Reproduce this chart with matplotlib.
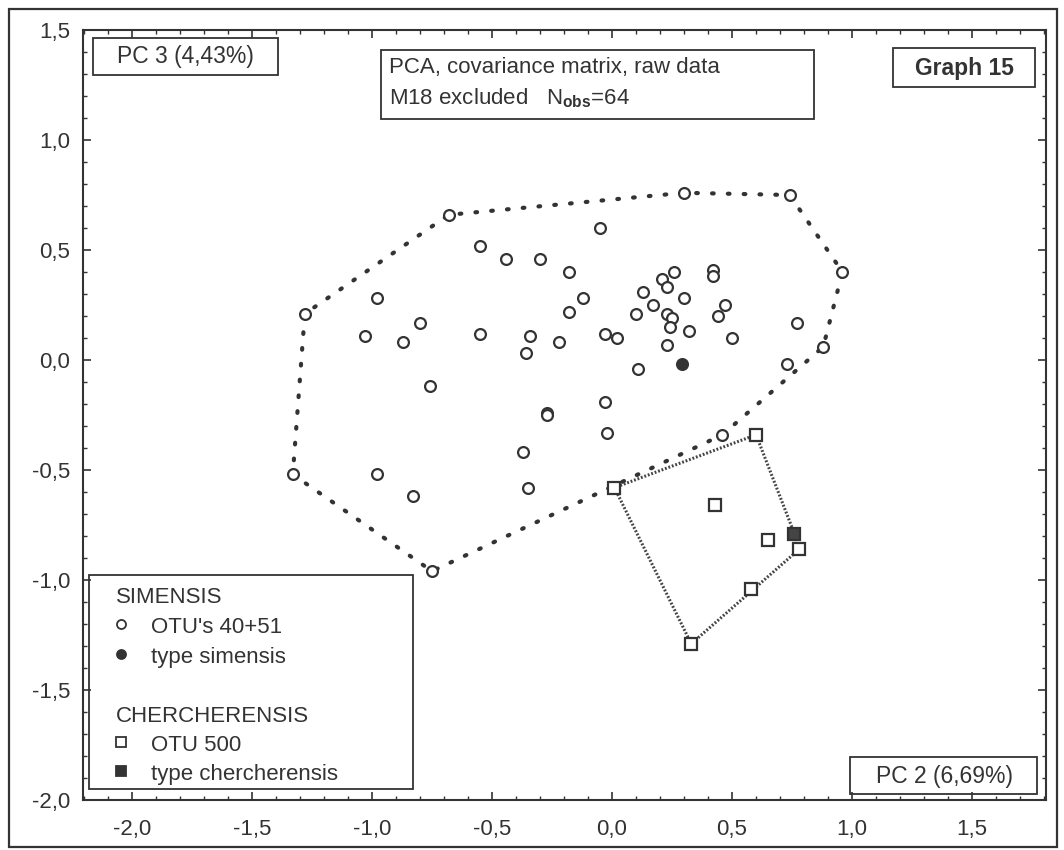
import matplotlib
matplotlib.use("Agg")
import matplotlib.pyplot as plt
from matplotlib.patches import Rectangle
from matplotlib.lines import Line2D
from matplotlib.ticker import MultipleLocator, FuncFormatter

plt.rcParams['font.family'] = ['Liberation Sans', 'DejaVu Sans']
plt.rcParams['mathtext.fontset'] = 'custom'
plt.rcParams['mathtext.rm'] = 'Liberation Sans'
plt.rcParams['mathtext.bf'] = 'Liberation Sans:bold'

INK = '#333333'

# SIMENSIS, OTU's 40+51  (PC 2, PC 3)
sim_x = [0.30, 0.74, -0.68, -0.05, -0.55, -0.44, -0.30, -0.18, 0.21, 0.26,
         0.13, 0.23, 0.30, -0.12, 0.17, -0.98, -1.28, 0.10, 0.23, 0.25,
         -0.18, -0.80, 0.24, 0.32, -1.03, -0.55, -0.34, -0.87, -0.22, -0.03,
         0.02, 0.23, -0.36, 0.11, -0.76, -0.03, -0.27, -0.27, -0.02, -0.37,
         -1.33, -0.98, -0.83, -0.35, -0.75, 0.46, 0.42, 0.42, 0.47, 0.44,
         0.50, 0.77, 0.88, 0.73, 0.96]
sim_y = [0.76, 0.75, 0.66, 0.60, 0.52, 0.46, 0.46, 0.40, 0.37, 0.40,
         0.31, 0.33, 0.28, 0.28, 0.25, 0.28, 0.21, 0.21, 0.21, 0.19,
         0.22, 0.17, 0.15, 0.13, 0.11, 0.12, 0.11, 0.08, 0.08, 0.12,
         0.10, 0.07, 0.03, -0.04, -0.12, -0.19, -0.24, -0.25, -0.33, -0.42,
         -0.52, -0.52, -0.62, -0.58, -0.96, -0.34, 0.41, 0.38, 0.25, 0.20,
         0.10, 0.17, 0.06, -0.02, 0.40]
type_sim_x = [0.29]
type_sim_y = [-0.02]

# CHERCHERENSIS, OTU 500
cher_x = [0.01, 0.60, 0.43, 0.65, 0.78, 0.58, 0.33]
cher_y = [-0.58, -0.34, -0.66, -0.82, -0.86, -1.04, -1.29]
type_cher_x = [0.76]
type_cher_y = [-0.79]

xticks = [-2.0, -1.5, -1.0, -0.5, 0.0, 0.5, 1.0, 1.5]
yticks = [-2.0, -1.5, -1.0, -0.5, 0.0, 0.5, 1.0, 1.5]


def convex_hull(xs, ys):
    pts = sorted(set(zip(xs, ys)))

    def cross(o, a, b):
        return (a[0] - o[0]) * (b[1] - o[1]) - (a[1] - o[1]) * (b[0] - o[0])

    lower = []
    for p in pts:
        while len(lower) >= 2 and cross(lower[-2], lower[-1], p) <= 0:
            lower.pop()
        lower.append(p)
    upper = []
    for p in reversed(pts):
        while len(upper) >= 2 and cross(upper[-2], upper[-1], p) <= 0:
            upper.pop()
        upper.append(p)
    hull = lower[:-1] + upper[:-1]
    hull.append(hull[0])
    return [p[0] for p in hull], [p[1] for p in hull]


W, H = 1064, 850
fig = plt.figure(figsize=(W / 100, H / 100), dpi=100)


def fx(px):
    return px / W


def fy(py):
    return 1 - py / H


def draw_box(x0, y0, x1, y1, lw=1.3):
    fig.add_artist(Rectangle((fx(x0), fy(y1)), fx(x1) - fx(x0), fy(y0) - fy(y1),
                             transform=fig.transFigure, fill=False, lw=lw, ec=INK))


ax = fig.add_axes([fx(83), fy(800), fx(1046) - fx(83), fy(30) - fy(800)])
ax.set_xlim(-2.204, 1.808)
ax.set_ylim(-2.0, 1.5)

# hulls
hx, hy = convex_hull(sim_x + type_sim_x, sim_y + type_sim_y)
ax.plot(hx, hy, color=INK, lw=3.0, linestyle=(0, (0.4, 3.4)),
        dash_capstyle='round', zorder=2)
cx, cy = convex_hull(cher_x + type_cher_x, cher_y + type_cher_y)
ax.plot(cx, cy, color='#444444', lw=2.2, linestyle=(0, (0.6, 0.6)), zorder=2)

# points
ax.plot(sim_x, sim_y, 'o', ms=7.8, mfc='white', mec=INK, mew=1.6, zorder=3)
ax.plot(type_sim_x, type_sim_y, 'o', ms=7.8, mfc=INK, mec=INK, mew=1.6, zorder=3)
ax.plot(cher_x, cher_y, 's', ms=8.5, mfc='white', mec=INK, mew=1.6, zorder=3)
ax.plot(type_cher_x, type_cher_y, 's', ms=8.5, mfc='#444444', mec=INK, mew=1.6, zorder=3)

# axes styling
fmt = FuncFormatter(lambda v, p: f"{v:.1f}".replace('.', ','))
ax.set_xticks(xticks)
ax.set_yticks(yticks)
ax.xaxis.set_major_formatter(fmt)
ax.yaxis.set_major_formatter(fmt)
ax.xaxis.set_minor_locator(MultipleLocator(0.1))
ax.yaxis.set_minor_locator(MultipleLocator(0.1))
ax.tick_params(which='both', direction='in', top=True, right=True, colors=INK,
               labelsize=16, labelcolor=INK)
ax.tick_params(which='major', length=6, width=1.2)
ax.tick_params(which='minor', length=3, width=1)
ax.tick_params(axis='y', pad=9)
ax.tick_params(axis='x', pad=14)
for s in ax.spines.values():
    s.set_linewidth(1.5)
    s.set_color(INK)

# text boxes
draw_box(93, 38, 278, 75)
fig.text(fx(185), fy(57), "PC 3 (4,43%)", fontsize=16.5, color=INK, ha='center', va='center')

draw_box(381, 50, 814, 119)
fig.text(fx(389), fy(68), "PCA, covariance matrix, raw data", fontsize=16, color=INK,
         ha='left', va='center')
fig.text(fx(389), fy(98), r"M18 excluded   N$_{\mathbf{obs}}$=64", fontsize=16, color=INK,
         ha='left', va='center')

draw_box(893, 48, 1035, 87)
fig.text(fx(964), fy(68), "Graph 15", fontsize=16.5, fontweight='bold', color=INK,
         ha='center', va='center')

draw_box(850, 757, 1037, 794)
fig.text(fx(944), fy(776), "PC 2 (6,69%)", fontsize=16.5, color=INK, ha='center', va='center')

# legend
draw_box(89, 575, 413, 789)
rows = [
    (603, None, "SIMENSIS"),
    (633, ('o', 'white'), "OTU's 40+51"),
    (663, ('o', INK), "type simensis"),
    (722, None, "CHERCHERENSIS"),
    (751, ('s', 'white'), "OTU 500"),
    (780, ('s', INK), "type chercherensis"),
]
for base, mk, label in rows:
    if mk is None:
        fig.text(fx(116), fy(base), label, fontsize=16, color=INK, ha='left', va='baseline')
    else:
        fig.add_artist(Line2D([fx(121)], [fy(base - 9)], transform=fig.transFigure,
                              marker=mk[0], ms=6.5, mfc=mk[1], mec=INK, mew=1.3, ls='none'))
        fig.text(fx(151), fy(base), label, fontsize=16, color=INK, ha='left', va='baseline')

# outer frame
draw_box(9, 9, 1057, 847, lw=1.6)

fig.savefig("out.png", dpi=100)
